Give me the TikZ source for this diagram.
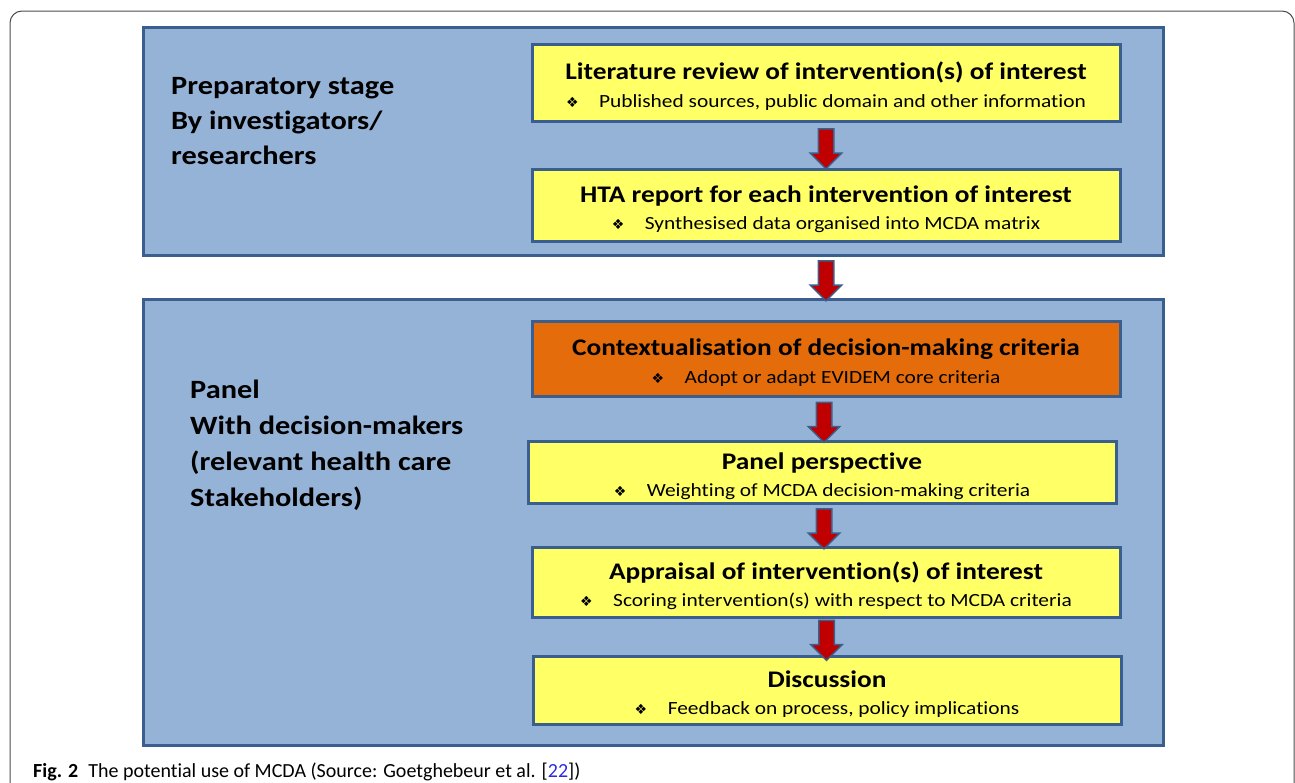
\documentclass[tikz,border=0pt]{standalone}
\usepackage{fontspec}
\setmainfont{Carlito}[Ligatures=NoCommon]
\newfontfamily\boxfont{Carlito}[FakeStretch=1.15, Ligatures=NoCommon]
\newfontfamily\symfont{DejaVu Sans}
\usetikzlibrary{shapes.arrows}

\definecolor{stageblue}{HTML}{95B3D7}
\definecolor{edgeblue}{HTML}{3A5F8E}
\definecolor{boxyellow}{HTML}{FFFF66}
\definecolor{boxorange}{HTML}{E46C0A}
\definecolor{arrowred}{HTML}{C00000}
\definecolor{citeblue}{HTML}{2A2AE0}

% first line of a box, with a little room above it
\newcommand{\boxtitle}[1]{{\bfseries\fontsize{23.8}{28}\selectfont\rule{0pt}{25pt}#1}}
% bullet in front of the second line of a box
\newcommand{\bul}{{\symfont\fontsize{14}{28}\selectfont ❖}\hspace{1.1em}}

\begin{document}
\begin{tikzpicture}[x=1pt, y=-1pt,
        stage/.style={draw=edgeblue, line width=3pt, fill=stageblue, inner sep=0pt},
        stepbox/.style={draw=edgeblue, line width=3pt, fill=boxyellow, minimum width=588pt, align=center, inner sep=0pt,
            font=\boxfont\fontsize{18.6}{27.5}\selectfont},
        blockarrow/.style={single arrow, draw=edgeblue, line width=1.5pt, fill=arrowred, rotate=-90, minimum height=40pt, inner xsep=0pt, inner ysep=7pt, single arrow head extend=8pt},
        sidelabel/.style={anchor=north west, align=left, inner sep=0pt, font=\boxfont\bfseries\fontsize{26.4}{35}\selectfont}
    ]
        \useasboundingbox (0,0) rectangle (1295,782);

        % Outer frame
        \draw[black!70, line width=1pt, rounded corners=12pt] (10,800) -- (10,11) -- (1294,11) -- (1294,800);

        % Stages
        \node[stage, minimum width=1020pt, minimum height=228pt] (prep) at (653,141) {};
        \node[stage, minimum width=1020pt, minimum height=446pt] (panel) at (653,522) {};

        \node[sidelabel] (prep_label) at (171,77) {Preparatory stage\\By investigators/\\researchers};
        \node[sidelabel, font=\boxfont\bfseries\fontsize{26.4}{36}\selectfont] (panel_label) at (190,380)
            {Panel\\With decision-makers\\(relevant health care\\Stakeholders)};

        % Preparatory steps
        \node[stepbox, minimum height=77pt] (lit) at (826,82.5)
            {\boxtitle{Literature review of intervention(s) of interest}\\\bul Published sources, public domain and other information};
        \node[stepbox, minimum height=72pt] (hta) at (826,205)
            {\boxtitle{HTA report for each intervention of interest}\\\bul Synthesised data organised into MCDA matrix};

        % Panel steps
        \node[stepbox, fill=boxorange, minimum height=75pt] (crit) at (826,358.5)
            {\boxtitle{Contextualisation of decision-making criteria}\\\bul Adopt or adapt EVIDEM core criteria};
        \node[stepbox, minimum height=62pt] (persp) at (822,472)
            {\boxtitle{Panel perspective}\\\bul Weighting of MCDA decision-making criteria};
        \node[stepbox, minimum height=70pt] (appr) at (826,582)
            {\boxtitle{Appraisal of intervention(s) of interest}\\\bul Scoring intervention(s) with respect to MCDA criteria};
        \node[stepbox, minimum height=68pt] (disc) at (827,690)
            {\boxtitle{Discussion}\\\bul Feedback on process, policy implications};

        % Block arrows
        \foreach \a/\b in {lit/hta, crit/persp, persp/appr, appr/disc} {
            \path (\a.south) -- (\b.north) node[midway, blockarrow] {};
        }
        \path (hta.south |- prep.south) -- (hta.south |- panel.north) node[midway, blockarrow] {};

        % Caption
        \node[anchor=base west, inner sep=0pt, font=\fontsize{20}{24}\selectfont] (caption) at (33,777)
            {\textbf{Fig. 2}\enspace The potential use of MCDA (Source: Goetghebeur et al. [\textcolor{citeblue}{22}])};
    \end{tikzpicture}
\end{document}
